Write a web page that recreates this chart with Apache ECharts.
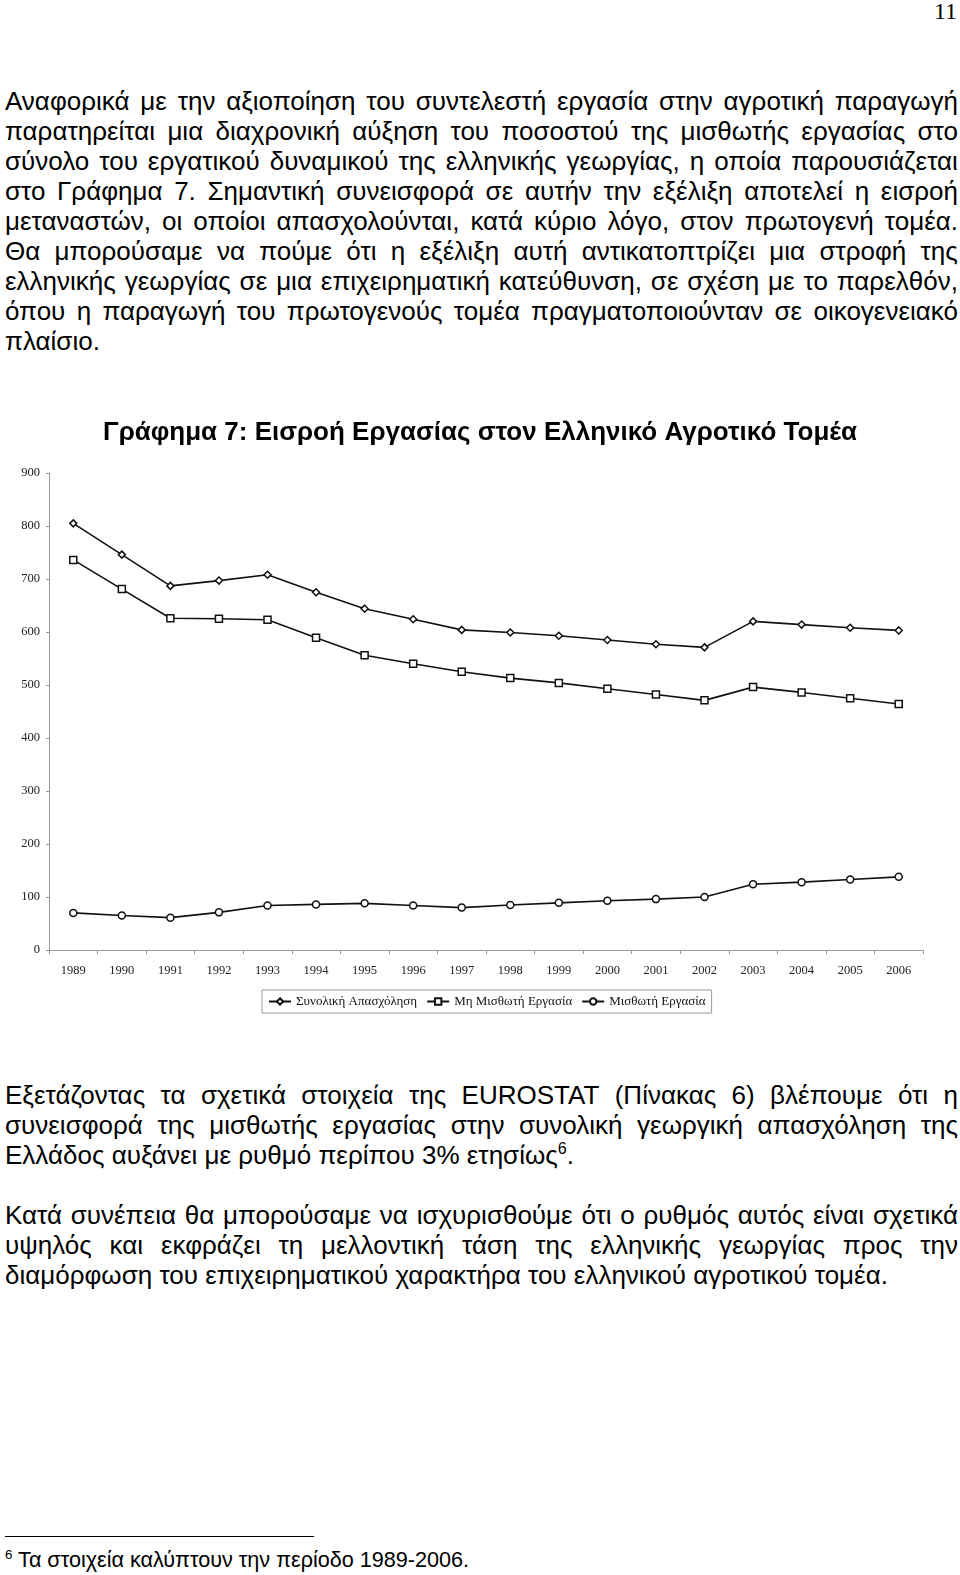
<!DOCTYPE html>
<html><head><meta charset="utf-8">
<script src="https://cdn.jsdelivr.net/npm/echarts@6/dist/echarts.min.js"></script>
<style>
html,body{margin:0;padding:0;background:#fff}
body{width:960px;height:1575px;position:relative;overflow:hidden;font-family:"Liberation Sans",Arial,sans-serif;color:#000}
.ln{position:absolute;left:5px;width:953px;height:30px;line-height:30px;font-size:26px;white-space:nowrap}
.ln.just{display:flex;justify-content:space-between}
sup{font-size:0.62em;line-height:0;vertical-align:0.62em}
#pg{position:absolute;right:3px;top:-2px;font-family:"Liberation Serif","Times New Roman",serif;font-size:24px;line-height:26px}
#rule{position:absolute;left:5px;top:1536px;width:309px;height:0;border-top:1.5px solid #000}
#fn{position:absolute;left:5px;top:1547px;font-size:21.6px;line-height:26px;white-space:nowrap}
#chart{position:absolute;left:0;top:400px;width:960px;height:630px}
</style>
</head><body>
<div id="pg">11</div>
<div id="text"></div>
<div id="chart"></div>
<div id="rule"></div>
<div id="fn"><sup>6</sup> Τα στοιχεία καλύπτουν την περίοδο 1989-2006.</div>
<script>
// ---- data ----
const years = ['1989','1990','1991','1992','1993','1994','1995','1996','1997','1998','1999','2000','2001','2002','2003','2004','2005','2006'];
const totalEmployment = [805,746,687,697,708,675,644,624,604,599,593,585,577,571,620,614,608,603];
const nonWageLabour = [736,681,626,625,623,589,556,540,525,513,504,493,482,471,496,486,475,464];
const wageLabour = [70,65,61,71,84,86,88,84,80,85,89,93,96,100,124,128,133,138];
const seriesNames = ['Συνολική Απασχόληση','Μη Μισθωτή Εργασία','Μισθωτή Εργασία'];
const chartTitle = 'Γράφημα 7: Εισροή Εργασίας στον Ελληνικό Αγροτικό Τομέα';

// ---- text ----
const para1 = [
 'Αναφορικά με την αξιοποίηση του συντελεστή εργασία στην αγροτική παραγωγή',
 'παρατηρείται μια διαχρονική αύξηση του ποσοστού της μισθωτής εργασίας στο',
 'σύνολο του εργατικού δυναμικού της ελληνικής γεωργίας, η οποία παρουσιάζεται',
 'στο Γράφημα 7. Σημαντική συνεισφορά σε αυτήν την εξέλιξη αποτελεί η εισροή',
 'μεταναστών, οι οποίοι απασχολούνται, κατά κύριο λόγο, στον πρωτογενή τομέα.',
 'Θα μπορούσαμε να πούμε ότι η εξέλιξη αυτή αντικατοπτρίζει μια στροφή της',
 'ελληνικής γεωργίας σε μια επιχειρηματική κατεύθυνση, σε σχέση με το παρελθόν,',
 'όπου η παραγωγή του πρωτογενούς τομέα πραγματοποιούνταν σε οικογενειακό',
 'πλαίσιο.'
];
const para2 = [
 'Εξετάζοντας τα σχετικά στοιχεία της EUROSTAT (Πίνακας 6) βλέπουμε ότι η',
 'συνεισφορά της μισθωτής εργασίας στην συνολική γεωργική απασχόληση της',
 'Ελλάδος αυξάνει με ρυθμό περίπου 3% ετησίως<sup>6</sup>.'
];
const para3 = [
 'Κατά συνέπεια θα μπορούσαμε να ισχυρισθούμε ότι ο ρυθμός αυτός είναι σχετικά',
 'υψηλός και εκφράζει τη μελλοντική τάση της ελληνικής γεωργίας προς την',
 'διαμόρφωση του επιχειρηματικού χαρακτήρα του ελληνικού αγροτικού τομέα.'
];
const holder = document.getElementById('text');
function addPara(lines, top, step){
  lines.forEach((t,i)=>{
    const d=document.createElement('div');
    const last = i===lines.length-1;
    d.className='ln'+(last?'':' just');
    d.style.top=(top+i*step)+'px';
    if(last){ d.innerHTML=t; }
    else { t.split(' ').forEach(w=>{const s=document.createElement('span');s.textContent=w;d.appendChild(s);}); }
    holder.appendChild(d);
  });
}
addPara(para1, 86, 29.95);
addPara(para2, 1080, 29.8);
addPara(para3, 1200, 30);

// ---- chart ----
const chart = echarts.init(document.getElementById('chart'), null, {renderer:'canvas'});
const serif = '"Liberation Serif","Times New Roman",serif';
const mk = (name, data, symbol, size) => ({
  name, type:'line', data, symbol, symbolSize:size,
  lineStyle:{color:'#111', width:1.6},
  itemStyle:{color:'#fff', borderColor:'#111', borderWidth:1.5},
  emphasis:{disabled:true}, animation:false
});
chart.setOption({
  animation:false,
  title:{text:chartTitle, left:'center', top:20, padding:0,
    textStyle:{fontFamily:'"Liberation Sans",Arial,sans-serif', fontWeight:'bold', fontSize:26, color:'#000'}},
  grid:{left:49, right:37, top:73, bottom:80},
  legend:{top:590, left:262, itemGap:9, itemWidth:22, itemHeight:8,
    padding:[5,6], borderColor:'#999', borderWidth:1,
    textStyle:{fontFamily:serif, fontSize:13, color:'#111'},
    data:seriesNames},
  xAxis:{type:'category', data:years, boundaryGap:true,
    axisLine:{lineStyle:{color:'#999', width:1}},
    axisTick:{show:true, length:4, lineStyle:{color:'#999'}},
    axisLabel:{fontFamily:serif, fontSize:12.5, color:'#222', margin:14}},
  yAxis:{type:'value', min:0, max:900, interval:100,
    axisLine:{show:true, lineStyle:{color:'#999', width:1}},
    axisTick:{show:true, length:3, lineStyle:{color:'#999'}},
    splitLine:{show:false},
    axisLabel:{fontFamily:serif, fontSize:12.5, color:'#222', margin:9}},
  series:[
    mk(seriesNames[0], totalEmployment, 'diamond', 7),
    mk(seriesNames[1], nonWageLabour, 'rect', 7),
    mk(seriesNames[2], wageLabour, 'circle', 7)
  ]
});
</script>
</body></html>
